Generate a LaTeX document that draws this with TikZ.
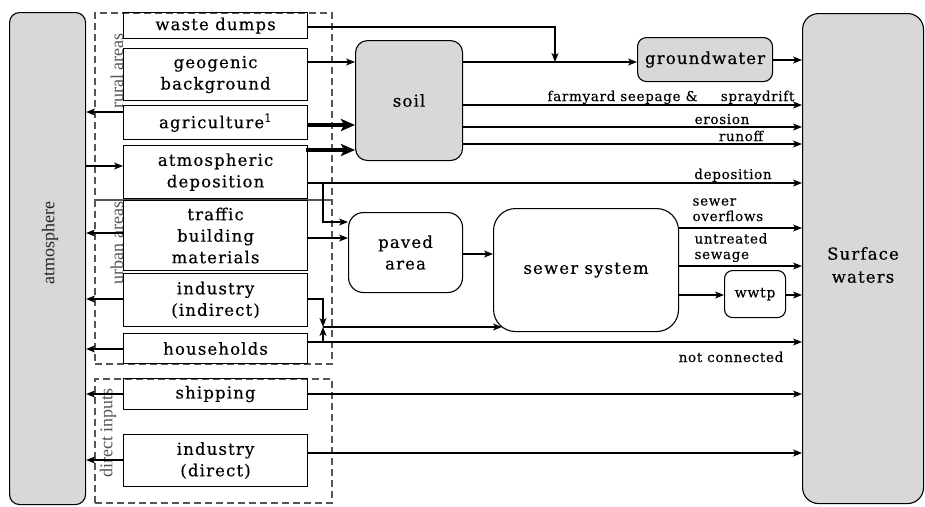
\documentclass[tikz,border=0pt]{standalone}
\usepackage{fontspec}
\setmainfont{DejaVu Serif}
\newfontfamily\slabfont[LetterSpace=7,FakeBold=0.4]{DejaVu Serif}
\newfontfamily\smallslab[LetterSpace=5,FakeBold=0.3]{DejaVu Serif}
\newfontfamily\timesfont{Liberation Serif}
\usetikzlibrary{arrows.meta,calc}
\definecolor{boxgray}{HTML}{D8D8D8}
\definecolor{dashgray}{HTML}{555555}
\begin{document}
\begin{tikzpicture}[x=1pt,y=-1pt,
  line width=1.1pt,
  arr/.style={-{Stealth[length=9pt,width=7pt,inset=2.5pt]}},
  thickarr/.style={line width=4pt,-{Stealth[length=14pt,width=12pt,inset=3pt]}},
  src/.style={draw,line width=1.1pt,anchor=north west,inner sep=0pt,align=center,
     font=\slabfont\fontsize{16.5}{21.5}\selectfont, minimum width=184pt},
  region/.style={draw=dashgray,line width=2pt,dash pattern=on 7pt off 4pt,anchor=north west,inner sep=0pt,minimum width=237pt},
  tank/.style={draw,line width=1.1pt,rounded corners=#1,align=center,inner sep=0pt,anchor=north west,font=\slabfont\fontsize{16.5}{21.5}\selectfont},
  lbl/.style={inner sep=0pt,font=\smallslab\fontsize{13.5}{15.5}\selectfont},
  rot/.style={rotate=90,inner sep=0pt,font=\timesfont\fontsize{18}{20}\selectfont}
]
\useasboundingbox (0,0) rectangle (925,506);

% big reservoirs
\node[tank=10,fill=boxgray,minimum width=76pt,minimum height=492pt] (atm) at (9,12) {};
\node[rot,text=black!85] (atmlbl) at (50,243) {atmosphere};
\node[tank=16,fill=boxgray,minimum width=121pt,minimum height=490pt] (surf) at (802,13) {};
\node[align=center,inner sep=0pt,font=\slabfont\fontsize{16.5}{23}\selectfont] (surflbl) at (863,265) {Surface\\waters};

% regions
\node[region,minimum height=187pt] (rural) at (94,12) {};
\node[region,minimum height=164pt] (urban) at (94,199) {};
\node[region,minimum height=124pt] (direct) at (94,378) {};
\node[rot,text=dashgray] (rurallbl) at (117,71) {rural areas};
\node[rot,text=dashgray] (urbanlbl) at (117,243) {urban areas};
\node[rot,text=dashgray] (directlbl) at (108,433) {direct inputs};

% sources
\node[src,minimum height=26pt] (waste) at (123,12) {waste dumps};
\node[src,minimum height=52pt] (geo) at (123,48) {geogenic\\background};
\node[src,minimum height=34pt] (agri) at (123,105) {agriculture\textsuperscript{1}};
\node[src,minimum height=53pt] (atmdep) at (123,145) {atmospheric\\deposition};
\node[src,minimum height=70pt] (traffic) at (123,200) {traffic\\building\\materials};
\node[src,minimum height=53pt] (indi) at (123,273) {industry\\(indirect)};
\node[src,minimum height=30pt] (house) at (123,333) {households};
\node[src,minimum height=31pt] (ship) at (123,378) {shipping};
\node[src,minimum height=52pt] (indd) at (123,434) {industry\\(direct)};

% compartments
\node[tank=12,fill=boxgray,minimum width=107pt,minimum height=120pt] (soil) at (355,40) {soil};
\node[tank=9,fill=boxgray,minimum width=135pt,minimum height=44pt] (gw) at (637,37) {groundwater};
\node[tank=15,minimum width=114pt,minimum height=80pt] (paved) at (348,212) {paved\\area};
\node[tank=22,minimum width=185pt,minimum height=123pt] (sewer) at (493,208) {sewer system};
\node[tank=8,minimum width=61pt,minimum height=47pt,font=\smallslab\fontsize{14}{15}\selectfont] (wwtp) at (724,270) {wwtp};

% to atmosphere
\draw[arr] (atm.east |- 0,166) -- (atmdep.west |- 0,166);
\draw[arr] (agri.west |- 0,112) -- (atm.east |- 0,112);
\draw[arr] (traffic.west |- 0,233) -- (atm.east |- 0,233);
\draw[arr] (indi.west |- 0,299) -- (atm.east |- 0,299);
\draw[arr] (house.west |- 0,349) -- (atm.east |- 0,349);
\draw[arr] (ship.west |- 0,394) -- (atm.east |- 0,394);
\draw[arr] (indd.west |- 0,460) -- (atm.east |- 0,460);

% rural pathways
\coordinate (wj) at (555,62);
\draw[arr] (waste.east |- 0,27) -| (wj);
\draw[arr] (geo.east |- 0,62) -- (soil.west |- 0,62);
\draw[thickarr] (agri.east |- 0,125) -- (soil.west |- 0,125);
\draw[thickarr] ([xshift=-2pt]atmdep.east |- 0,150) -- (soil.west |- 0,150);
\draw[arr] (soil.east |- 0,62) -- (gw.west |- 0,62);
\draw[arr,line width=1.8pt] (gw.east |- 0,60) -- (surf.west |- 0,60);
\draw[arr] (soil.east |- 0,105) -- (surf.west |- 0,105);
\draw[arr] (soil.east |- 0,127) -- (surf.west |- 0,127);
\draw[arr] (soil.east |- 0,144) -- (surf.west |- 0,144);
\draw[arr] (atmdep.east |- 0,183) -- (surf.west |- 0,183);

% urban pathways
\coordinate (dj) at (323,183);
\draw[arr] (dj) |- (paved.west |- 0,222);
\draw[arr] (traffic.east |- 0,238) -- (paved.west |- 0,238);
\draw[arr] (paved.east |- 0,254) -- (sewer.west |- 0,254);
\draw[arr] (sewer.east |- 0,228) -- (surf.west |- 0,228);
\draw[arr] (sewer.east |- 0,266) -- (surf.west |- 0,266);
\draw[arr] (sewer.east |- 0,295) -- (wwtp.west |- 0,295);
\draw[arr] (wwtp.east |- 0,295) -- (surf.west |- 0,295);
\coordinate (mj) at (323,327);
\draw[arr] (indi.east |- 0,299) -| (mj);
\draw[arr] (house.east |- 0,342) -- (surf.west |- 0,342);
\draw[arr] (mj |- 0,342) -- (mj);
\draw[arr] (mj) -- ($(sewer.west |- 0,327)+(9,0)$);

% direct inputs
\draw[arr] (ship.east |- 0,394) -- (surf.west |- 0,394);
\draw[arr] (indd.east |- 0,453) -- (surf.west |- 0,453);

% labels
\node[lbl,anchor=base west] (lfarm) at (547,101) {farmyard seepage \&};
\node[lbl,anchor=base east] (lspray) at (795,101) {spraydrift};
\node[lbl,anchor=base] (lero) at (722,124) {erosion};
\node[lbl,anchor=base] (lrun) at (741,141) {runoff};
\node[lbl,anchor=base] (ldep) at (733,179) {deposition};
\node[lbl,anchor=base west,align=left] (lsewer) at (692,221) {sewer\\overflows};
\node[lbl,anchor=base west,align=left] (luntr) at (694,259) {untreated\\sewage};
\node[lbl,anchor=base] (lnot) at (731,362) {not connected};
\end{tikzpicture}
\end{document}
